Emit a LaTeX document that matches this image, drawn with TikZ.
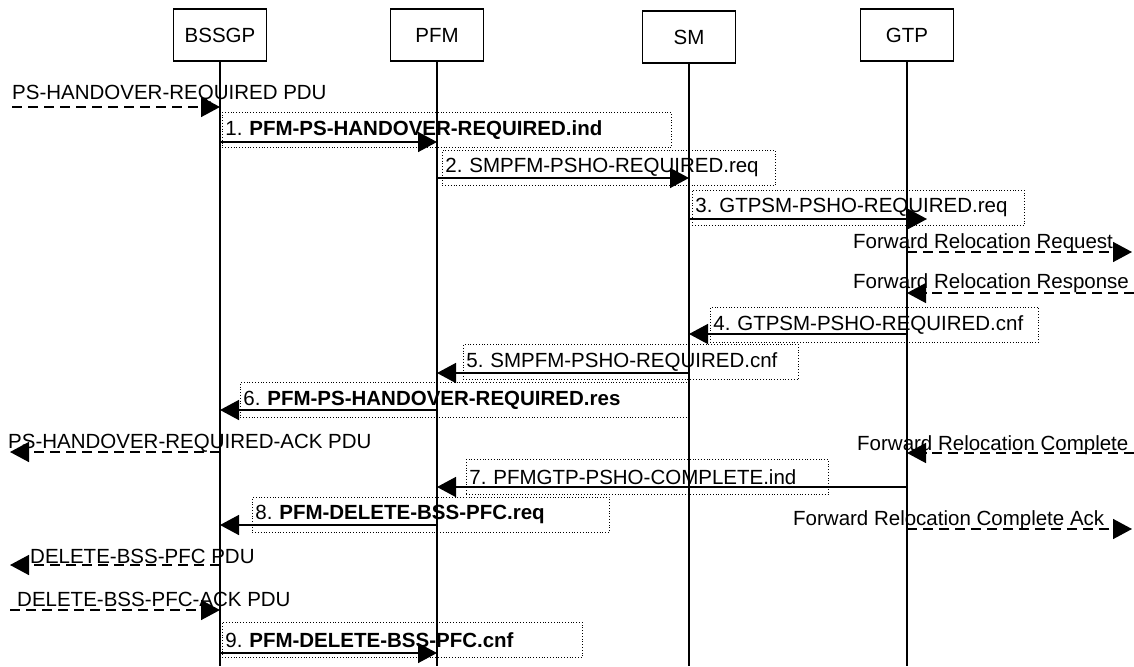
\documentclass[tikz,border=0pt]{standalone}
\usepackage{fontspec}
\setmainfont{Liberation Sans}
\usetikzlibrary{arrows.meta}
\frenchspacing

\tikzset{
    every node/.style={font=\fontsize{20.5}{24}\selectfont},
    entity/.style={draw, line width=1.5pt, minimum width=93pt, minimum height=52pt, inner sep=0pt},
    lifeline/.style={line width=1.5pt},
    msg/.style={line width=1.5pt, -{Triangle[length=19pt,width=20pt]}},
    extmsg/.style={msg, dash pattern=on 10pt off 6pt},
    note/.style={draw, dotted, line width=0.8pt, anchor=north west, minimum height=35pt, inner xsep=3pt, inner ysep=0pt, align=left},
    lbl/.style={anchor=base west, inner sep=0pt},
}

\begin{document}
\begin{tikzpicture}[x=1pt, y=-1pt]

        \useasboundingbox (0,0) rectangle (1134,666);

        \node[entity] (bssgp) at (220,35) {BSSGP};
        \node[entity] (pfm) at (437,35) {PFM};
        \node[entity] (sm) at (689,37) {SM};
        \node[entity] (gtp) at (907,35) {GTP};

        \coordinate (bssgpend) at (220,666);
        \coordinate (pfmend) at (437,666);
        \coordinate (smend) at (689,666);
        \coordinate (gtpend) at (907,666);

        \draw[lifeline] (bssgp) -- (bssgpend);
        \draw[lifeline] (pfm) -- (pfmend);
        \draw[lifeline] (sm) -- (smend);
        \draw[lifeline] (gtp) -- (gtpend);

        \node[lbl] (psreq) at (12,100) {PS-HANDOVER-REQUIRED PDU};
        \coordinate (psreqs) at (12,107);
        \draw[extmsg] (psreqs) -- (bssgp |- psreqs);

        \node[note, text width=443pt] (n1) at (222,112) {1. \textbf{PFM-PS-HANDOVER-REQUIRED.ind}};
        \draw[msg] (bssgp |- 0,142) -- (pfm |- 0,142);

        \node[note, text width=327pt] (n2) at (442,150) {2. SMPFM-PSHO-REQUIRED.req};
        \draw[msg] (pfm |- 0,178) -- (sm |- 0,178);

        \node[note, text width=326pt] (n3) at (692,190) {3. GTPSM-PSHO-REQUIRED.req};
        \coordinate (n3e) at (927,219);
        \draw[msg] (sm |- n3e) -- (n3e);

        \node[lbl] (frreq) at (853,248) {Forward Relocation Request};
        \coordinate (frreqe) at (1132,252);
        \draw[extmsg] (gtp |- frreqe) -- (frreqe);

        \node[lbl] (frres) at (853,288) {Forward Relocation Response};
        \coordinate (frress) at (1134,293);
        \draw[extmsg] (frress) -- (gtp |- frress);

        \node[note, text width=322pt] (n4) at (710,307) {4. GTPSM-PSHO-REQUIRED.cnf};
        \draw[msg] (gtp |- 0,334) -- (sm |- 0,334);

        \node[note, text width=329pt] (n5) at (463,344) {5. SMPFM-PSHO-REQUIRED.cnf};
        \draw[msg] (sm |- 0,373) -- (pfm |- 0,373);

        \node[note, text width=442pt] (n6) at (240,382) {6. \textbf{PFM-PS-HANDOVER-REQUIRED.res}};
        \draw[msg] (pfm |- 0,410) -- (bssgp |- 0,410);

        \node[lbl] (psack) at (8,448) {PS-HANDOVER-REQUIRED-ACK PDU};
        \coordinate (psacke) at (10,452);
        \draw[extmsg] (bssgp |- psacke) -- (psacke);

        \node[lbl] (frc) at (857,450) {Forward Relocation Complete};
        \coordinate (frcs) at (1134,453);
        \draw[extmsg] (frcs) -- (gtp |- frcs);

        \node[note, text width=356pt] (n7) at (466,459) {7. PFMGTP-PSHO-COMPLETE.ind};
        \draw[msg] (gtp |- 0,487) -- (pfm |- 0,487);

        \node[note, text width=351pt] (n8) at (252,497) {8. \textbf{PFM-DELETE-BSS-PFC.req}};
        \draw[msg] (pfm |- 0,525) -- (bssgp |- 0,525);

        \node[lbl] (frca) at (793,525) {Forward Relocation Complete Ack};
        \coordinate (frcae) at (1132,529);
        \draw[extmsg] (gtp |- frcae) -- (frcae);

        \node[lbl] (del) at (30,563) {DELETE-BSS-PFC PDU};
        \coordinate (dele) at (10,565);
        \draw[extmsg] (bssgp |- dele) -- (dele);

        \node[lbl] (delack) at (17,606) {DELETE-BSS-PFC-ACK PDU};
        \coordinate (delacks) at (10,610);
        \draw[extmsg] (delacks) -- (bssgp |- delacks);

        \node[note, text width=354pt] (n9) at (222,622) {9. \textbf{PFM-DELETE-BSS-PFC.cnf}};
        \draw[msg] (bssgp |- 0,653) -- (pfm |- 0,653);

    \end{tikzpicture}
\end{document}
